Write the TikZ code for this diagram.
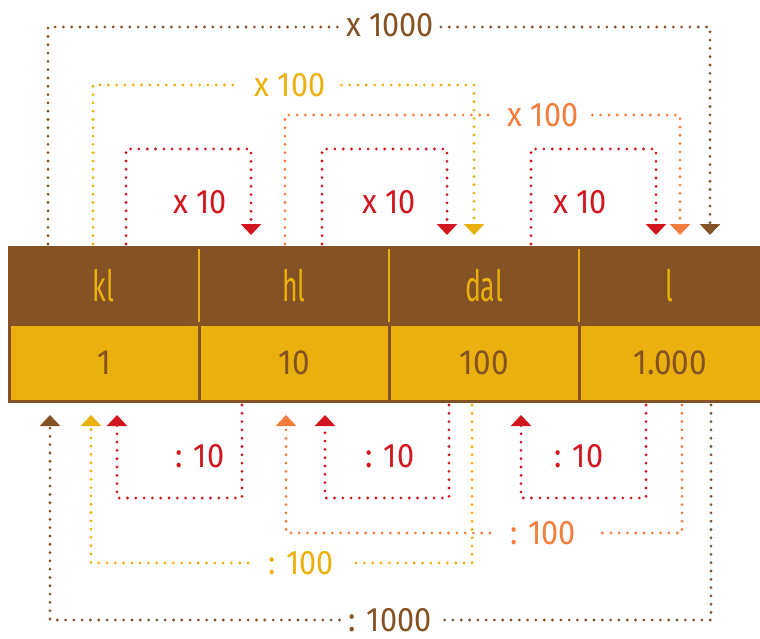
\documentclass[tikz,border=0pt]{standalone}
\usepackage{fontspec}
\setmainfont{Fira Sans}
\newfontfamily\condfont[FakeStretch=0.62]{Fira Sans}
\newfontfamily\numfont[FakeStretch=0.9]{Fira Sans}
\usetikzlibrary{arrows.meta}
\definecolor{cbrown}{HTML}{845224}
\definecolor{cyellow}{HTML}{EAB10E}
\definecolor{corange}{HTML}{F47C3C}
\definecolor{cred}{HTML}{D2161F}
\tikzset{
  dotline/.style={line width=3.1pt, dash pattern=on 0pt off 8.3pt, line cap=round},
  bdot/.style={dotline, draw=cbrown},
  ydot/.style={dotline, draw=cyellow},
  odot/.style={dotline, draw=corange},
  rdot/.style={dotline, draw=cred},
  tipped/.style={-{Triangle[width=20pt,length=11pt,line cap=butt]}},
  lbl/.style={font=\numfont\fontsize{34}{40}\selectfont, inner ysep=0pt, inner xsep=12pt},
  hcell/.style={fill=cbrown, text=cyellow, minimum height=79pt, inner sep=0pt,
    font=\condfont\fontsize{43}{48}\selectfont},
  bcell/.style={fill=cyellow, text=cbrown, minimum height=74pt, inner sep=0pt,
    font=\numfont\fontsize{35}{40}\selectfont},
  sep/.style={draw=cyellow, line width=2.5pt, shorten >=3pt, shorten <=3pt}
}
\begin{document}
\begin{tikzpicture}[x=1pt,y=-1pt]
\useasboundingbox (0,0) rectangle (760,639);
% table
\fill[cbrown] (8,246) rectangle (760,403);
\node[hcell, minimum width=191pt] (h1) at (103.5,285.5) {kl};
\node[hcell, minimum width=190pt] (h2) at (294,285.5) {hl};
\node[hcell, minimum width=190pt] (h3) at (484,285.5) {dal};
\node[hcell, minimum width=181pt] (h4) at (669.5,285.5) {l};
\node[bcell, minimum width=187pt] (n1) at (104.5,363) {1};
\node[bcell, minimum width=187.5pt] (n2) at (294.25,363) {10};
\node[bcell, minimum width=187.5pt] (n3) at (484.25,363) {100};
\node[bcell, minimum width=179.5pt] (n4) at (670.25,363) {1.000};
\draw[sep] (h1.north east) -- (h1.south east);
\draw[sep] (h2.north east) -- (h2.south east);
\draw[sep] (h3.north east) -- (h3.south east);

% level coordinates
\coordinate (ytop) at (0,149);
\coordinate (ybot) at (0,498);

% ---- top connectors ----
\coordinate (tb0) at (48,244);  \coordinate (tb1) at (710,235);
\coordinate (ty0) at (93,244);  \coordinate (ty1) at (474,235);
\coordinate (to0) at (285,244); \coordinate (to1) at (680,235);
\coordinate (tr10) at (126,244); \coordinate (tr11) at (251,235);
\coordinate (tr20) at (322,244); \coordinate (tr21) at (447,235);
\coordinate (tr30) at (531,244); \coordinate (tr31) at (656,235);

\node[lbl, text=cbrown, inner xsep=7pt] (lt1000) at (390,27) {\raisebox{4pt}{x 1000}};
\node[lbl, text=cyellow, inner xsep=16pt] (lty100) at (290,85) {x 100};
\node[lbl, text=corange, inner xsep=14pt] (lto100) at (543,115) {x 100};
\node[lbl, text=cred] (ltr1) at (200,202) {x 10};
\node[lbl, text=cred] (ltr2) at (389,202) {x 10};
\node[lbl, text=cred] (ltr3) at (580,202) {x 10};

\draw[bdot] (tb0) |- (lt1000.west);
\draw[bdot, tipped, cbrown] (lt1000.east) -| (tb1);
\draw[ydot] (ty0) |- (lty100.west);
\draw[ydot, tipped, cyellow] (lty100.east) -| (ty1);
\draw[odot] (to0) |- (lto100.west);
\draw[odot, tipped, corange] (lto100.east) -| (to1);
\draw[rdot, tipped, cred] (tr10) -- (tr10 |- ytop) -| (tr11);
\draw[rdot, tipped, cred] (tr20) -- (tr20 |- ytop) -| (tr21);
\draw[rdot, tipped, cred] (tr30) -- (tr30 |- ytop) -| (tr31);

% ---- bottom connectors ----
\coordinate (bb0) at (50,415);  \coordinate (bb1) at (711,405);
\coordinate (by0) at (91,415);  \coordinate (by1) at (472,405);
\coordinate (bo0) at (286,415); \coordinate (bo1) at (682,405);
\coordinate (br10) at (117,415); \coordinate (br11) at (242,405);
\coordinate (br20) at (325,415); \coordinate (br21) at (449,405);
\coordinate (br30) at (521,415); \coordinate (br31) at (646,405);

\node[lbl, text=cbrown, inner xsep=9pt] (lb1000) at (390,620) {: 1000};
\node[lbl, text=cyellow, inner xsep=20pt] (lby100) at (301,563) {: 100};
\node[lbl, text=corange, inner xsep=20pt] (lbo100) at (543,533) {: 100};
\node[lbl, text=cred] (lbr1) at (200,456) {: 10};
\node[lbl, text=cred] (lbr2) at (390,456) {: 10};
\node[lbl, text=cred] (lbr3) at (579,456) {: 10};

\draw[bdot] (bb1) |- (lb1000.east);
\draw[bdot, tipped, cbrown] (lb1000.west) -| (bb0);
\draw[ydot] (by1) |- (lby100.east);
\draw[ydot, tipped, cyellow] (lby100.west) -| (by0);
\draw[odot] (bo1) |- (lbo100.east);
\draw[odot, tipped, corange] (lbo100.west) -| (bo0);
\draw[rdot, tipped, cred] (br11) -- (br11 |- ybot) -| (br10);
\draw[rdot, tipped, cred] (br21) -- (br21 |- ybot) -| (br20);
\draw[rdot, tipped, cred] (br31) -- (br31 |- ybot) -| (br30);
\end{tikzpicture}
\end{document}
